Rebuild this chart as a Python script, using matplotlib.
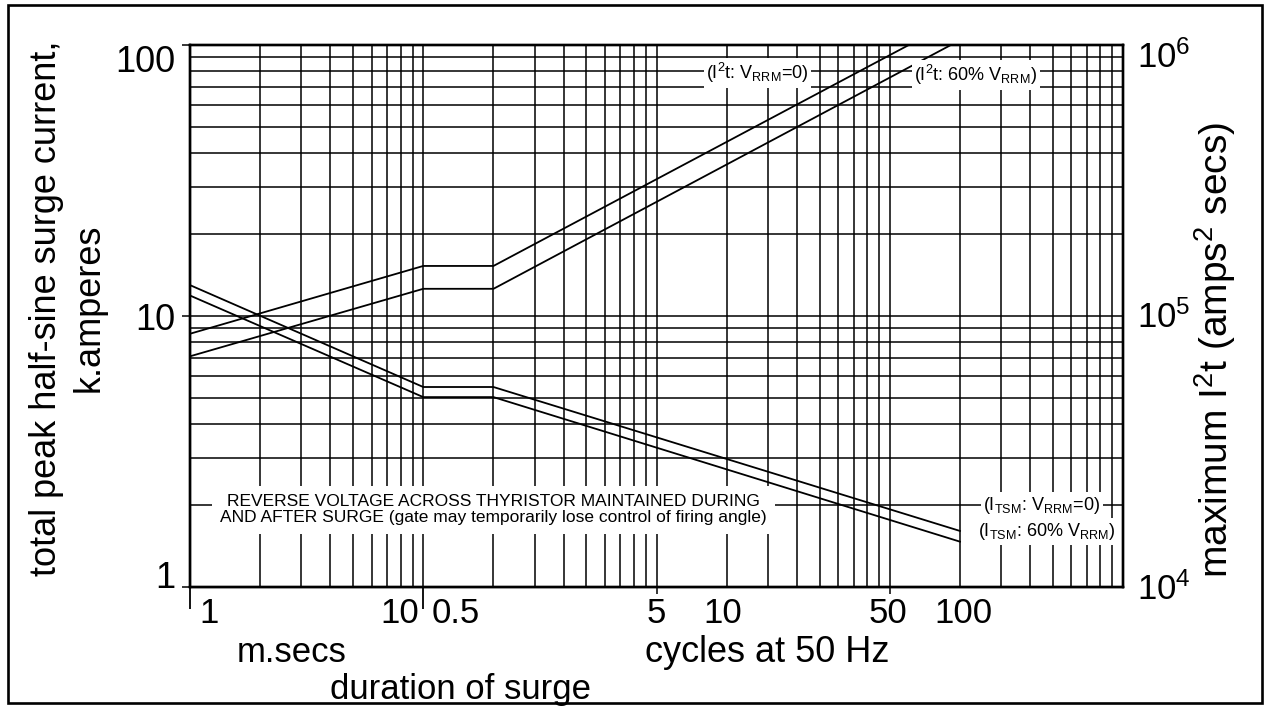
import matplotlib
matplotlib.use('Agg')
import matplotlib.pyplot as plt
from matplotlib.ticker import LogLocator, NullLocator, NullFormatter
from matplotlib.patches import Rectangle
from matplotlib.transforms import blended_transform_factory, offset_copy

plt.rcParams['font.family'] = ['Liberation Sans', 'DejaVu Sans']
plt.rcParams['mathtext.fontset'] = 'custom'
plt.rcParams['mathtext.rm'] = 'Liberation Sans'
plt.rcParams['mathtext.it'] = 'Liberation Sans:italic'
plt.rcParams['mathtext.bf'] = 'Liberation Sans:bold'

# surge duration in ms (0.5 cycle at 50 Hz = 10 ms)
t_itsm = [1, 10, 20, 2000]
itsm_v0 = [13.0, 5.47, 5.47, 1.61]      # kA, V_RRM = 0
itsm_v60 = [11.9, 5.02, 5.02, 1.47]     # kA, 60% V_RRM

t_i2t_v0 = [1, 10, 20, 1207]
i2t_v0 = [8.6e4, 1.53e5, 1.53e5, 1.0e6]     # A^2 s, V_RRM = 0
t_i2t_v60 = [1, 10, 20, 1828]
i2t_v60 = [7.1e4, 1.26e5, 1.26e5, 1.0e6]    # A^2 s, 60% V_RRM

# bottom scale labels (ms positions): m.secs then cycles at 50 Hz
xlab_ms = [1, 10, 10, 100, 200, 1000, 2000]
xlab_txt = ['1', '10', '0.5', '5', '10', '50', '100']
xlab_ha = ['left', 'right', 'left', 'center', 'center', 'center', 'center']
xlab_dx = [9, -4, 8, 0, -4, -2, 3]

ylab_val = [1, 10, 100]
ylab_txt = ['1', '10', '100']
ylab_dy = [9, -4, -17]

y2lab_val = [1e4, 1e5, 1e6]
y2lab_txt = ['10$^4$', '10$^5$', '10$^6$']
y2lab_dy = [-3, -2, -13]

W, H = 1268., 706.
fig = plt.figure(figsize=(12.68, 7.06), dpi=100)
ax = fig.add_axes([190/W, 1-587/H, (1123-190)/W, (587-45)/H])
ax.set_xscale('log')
ax.set_yscale('log')
ax.set_xlim(1, 10000)
ax.set_ylim(1, 100)
for a in (ax.xaxis, ax.yaxis):
    a.set_major_locator(LogLocator(base=10, subs=range(1, 10), numticks=100))
    a.set_minor_locator(NullLocator())
    a.set_major_formatter(NullFormatter())
ax.tick_params(length=0)
ax.grid(True, color='black', lw=1.1)
ax.set_axisbelow(True)
for s in ax.spines.values():
    s.set_linewidth(1.7)

ax2 = ax.twinx()
ax2.set_yscale('log')
ax2.set_ylim(1e4, 1e6)
ax2.yaxis.set_major_locator(NullLocator())
ax2.yaxis.set_minor_locator(NullLocator())
for s in ax2.spines.values():
    s.set_linewidth(1.7)

ax.plot(t_itsm, itsm_v0, color='black', lw=1.3, zorder=3)
ax.plot(t_itsm, itsm_v60, color='black', lw=1.3, zorder=3)
ax2.plot(t_i2t_v0, i2t_v0, color='black', lw=1.3, zorder=3)
ax2.plot(t_i2t_v60, i2t_v60, color='black', lw=1.3, zorder=3)

# tick marks below the time axis
sec = ax.secondary_xaxis('bottom')
sec.set_xticks([1, 10])
sec.xaxis.set_minor_locator(NullLocator())
sec.tick_params(length=16, width=1.3, labelbottom=False)
sec2 = ax.secondary_xaxis('bottom')
sec2.set_xticks([100, 1000])
sec2.xaxis.set_minor_locator(NullLocator())
sec2.tick_params(length=5, width=1.1, labelbottom=False)
secy = ax.secondary_yaxis('left')
secy.set_yticks(ylab_val)
secy.yaxis.set_minor_locator(NullLocator())
secy.tick_params(length=6, width=1.1, labelleft=False)

# scale numbers
tx = blended_transform_factory(ax.transData, ax.transAxes)
for v, s, ha, dx in zip(xlab_ms, xlab_txt, xlab_ha, xlab_dx):
    ax.text(v, -0.048, s, transform=offset_copy(tx, fig, x=dx, y=0, units='dots'),
            ha=ha, va='center', fontsize=25)
ty = blended_transform_factory(ax.transAxes, ax.transData)
for v, s, dy in zip(ylab_val, ylab_txt, ylab_dy):
    ax.text(-0.016, v, s, transform=offset_copy(ty, fig, x=0, y=dy, units='dots'),
            ha='right', va='center', fontsize=26)
ty2 = blended_transform_factory(ax2.transAxes, ax2.transData)
for v, s, dy in zip(y2lab_val, y2lab_txt, y2lab_dy):
    ax2.text(1.015, v, s, transform=offset_copy(ty2, fig, x=0, y=dy, units='dots'),
             ha='left', va='center', fontsize=25)

# curve labels
box = dict(facecolor='white', edgecolor='none', pad=2)
ax2.text(271, 7.9e5, '(I$^2$t: V$_{\\rm RRM}$=0)', ha='center', va='center',
         fontsize=13, bbox=box, zorder=4)
ax2.text(2340, 7.75e5, '(I$^2$t: 60% V$_{\\rm RRM}$)', ha='center', va='center',
         fontsize=13, bbox=box, zorder=4)
ax.text(4490, 2.0, '(I$_{\\rm TSM}$: V$_{\\rm RRM}$=0)', ha='center', va='center',
        fontsize=13, bbox=box, zorder=4)
ax.text(4720, 1.6, '(I$_{\\rm TSM}$: 60% V$_{\\rm RRM}$)', ha='center', va='center',
        fontsize=13, bbox=box, zorder=4)
ax.text(20, 1.93, 'REVERSE VOLTAGE ACROSS THYRISTOR MAINTAINED DURING\n'
        'AND AFTER SURGE (gate may temporarily lose control of firing angle)',
        ha='center', va='center', fontsize=12.5, linespacing=1.1,
        bbox=dict(facecolor='white', edgecolor='none', pad=6), zorder=4)

# axis titles
fig.text(68/W, 1-308/H, 'total peak half-sine surge current,\nk.amperes', rotation=90,
         ha='center', va='center', fontsize=26, linespacing=1.3, multialignment='center')
fig.text(1215/W, 1-350/H, 'maximum I$^2$t (amps$^2$ secs)', rotation=90,
         ha='center', va='center', fontsize=28)
fig.text(292/W, 1-652/H, 'm.secs', ha='center', va='center', fontsize=25)
fig.text(767/W, 1-652/H, 'cycles at 50 Hz', ha='center', va='center', fontsize=26)
fig.text(460/W, 1-690/H, 'duration of surge', ha='center', va='center', fontsize=25)

# outer frame
fig.add_artist(Rectangle((8/W, 3/H), (1262-8)/W, (703-5)/H, transform=fig.transFigure,
                         fill=False, lw=1.9, ec='black'))

fig.savefig('out.png', dpi=100)
